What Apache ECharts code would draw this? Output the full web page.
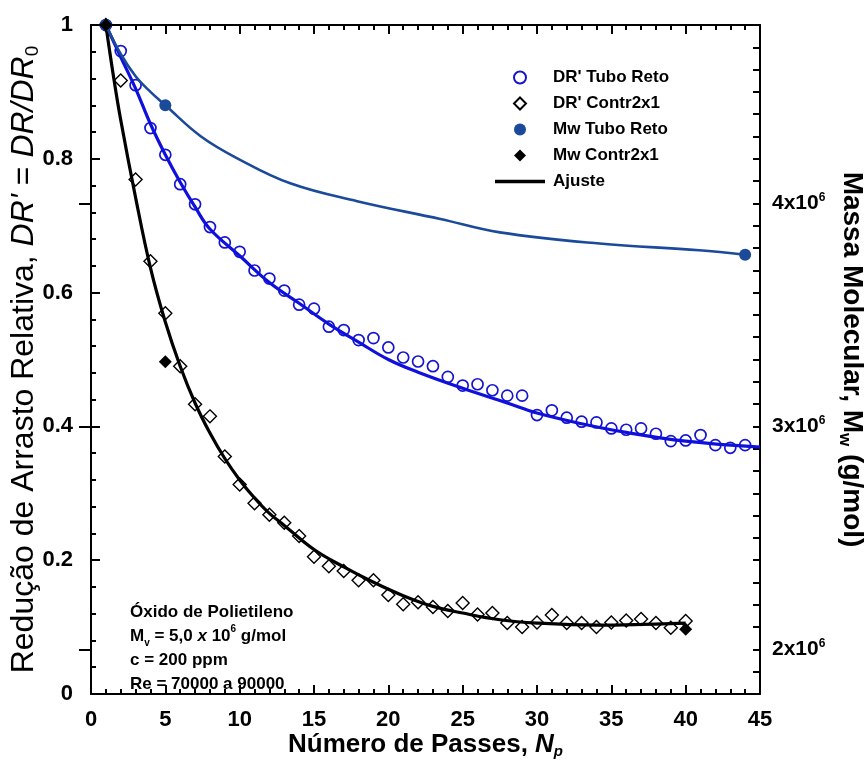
<!DOCTYPE html>
<html>
<head>
<meta charset="utf-8">
<script src="https://cdn.jsdelivr.net/npm/echarts@6/dist/echarts.min.js"></script>
<style>
html,body{margin:0;padding:0;background:#fff;}
#chart{width:868px;height:763px;}
</style>
</head>
<body>
<div id="chart"></div>
<script>
// ---- data ----
const nTubo = [1,2,3,4,5,6,7,8,9,10,11,12,13,14,15,16,17,18,19,20,21,22,23,24,25,26,27,28,29,30,31,32,33,34,35,36,37,38,39,40,41,42,43,44];
const drTubo = [1.0,0.961,0.910,0.846,0.806,0.762,0.732,0.698,0.675,0.661,0.633,0.621,0.603,0.582,0.576,0.549,0.544,0.529,0.532,0.518,0.503,0.497,0.490,0.474,0.461,0.463,0.454,0.446,0.446,0.417,0.424,0.413,0.407,0.406,0.397,0.395,0.397,0.389,0.378,0.379,0.387,0.372,0.368,0.372];

const nContr = [1,2,3,4,5,6,7,8,9,10,11,12,13,14,15,16,17,18,19,20,21,22,23,24,25,26,27,28,29,30,31,32,33,34,35,36,37,38,39,40];
const drContr = [1.0,0.917,0.769,0.647,0.569,0.490,0.433,0.415,0.355,0.313,0.285,0.268,0.256,0.236,0.205,0.191,0.184,0.170,0.170,0.148,0.134,0.137,0.130,0.124,0.136,0.119,0.121,0.106,0.100,0.107,0.118,0.106,0.106,0.100,0.107,0.110,0.112,0.106,0.099,0.109];

const nMwTubo = [1,5,44];
const mwTubo = [4.8e6,4.44e6,3.77e6];
const nMwContr = [1,5,40];
const mwContr = [4.8e6,3.29e6,2.09e6];

// fitted curves
const nFitTubo = [1,2,3,4,5,6,7,8,10,12,14,16,18,20,22,25,28,30,33,36,40,45];
const fitTubo = [1.0,0.952,0.905,0.852,0.806,0.765,0.728,0.695,0.655,0.615,0.584,0.553,0.526,0.500,0.481,0.457,0.435,0.420,0.404,0.391,0.378,0.369];

const nFitContr = [1,1.5,2,3,4,5,6,7,8,9,10,11,12,13,15,17,19,21,23,25,27.5,30,34,37,40];
const fitContr = [1.0,0.925,0.858,0.742,0.637,0.556,0.490,0.435,0.390,0.352,0.320,0.293,0.270,0.252,0.216,0.190,0.167,0.147,0.131,0.121,0.111,0.106,0.103,0.104,0.106];

const nFitMw = [1,2,3,4,5,7.4,9.9,13.4,17.9,23.5,27.5,34.2,40.9,44];
const fitMw = [4.8e6,4.67e6,4.57e6,4.50e6,4.44e6,4.30e6,4.20e6,4.09e6,4.01e6,3.93e6,3.87e6,3.82e6,3.79e6,3.77e6];

const xTicks = {min:0, max:45, interval:5};
const yLeftTicks = {min:0, max:1, interval:0.2};
const yRightTicks = {min:1.8e6, max:4.8e6, interval:0.1e6};
const yRightMajor = [2e6, 3e6, 4e6];

const FONT = 'Liberation Sans';
const pairs = (xs, ys) => xs.map((x,i)=>[x, ys[i]]);

const chart = echarts.init(document.getElementById('chart'), null, {renderer:'canvas'});

const axisCommon = {
  axisLine:{show:true, onZero:false, lineStyle:{color:'#000', width:2}},
  splitLine:{show:false},
};
const DIAMOND = 'path://M6,0L12,6L6,12L0,6Z';
const LINEICON = 'path://M0,0H50V3.4H0Z';

chart.setOption({
  backgroundColor:'#fff',
  animation:false,
  grid:{left:91, right:108, top:25, bottom:69, containLabel:false, outerBoundsMode:'none'},
  legend:{
    orient:'vertical', left:490, top:64,
    itemWidth:50, itemHeight:12, itemGap:9,
    textStyle:{fontFamily:FONT, fontWeight:'bold', fontSize:17, color:'#000', padding:[0,0,0,3]},
    data:[
      {name:"DR' Tubo Reto", icon:'circle'},
      {name:"DR' Contr2x1", icon:DIAMOND},
      {name:"Mw Tubo Reto", icon:'circle'},
      {name:"Mw Contr2x1", icon:DIAMOND},
      {name:"Ajuste", icon:LINEICON}
    ]
  },
  xAxis:[{
    type:'value', position:'bottom', min:xTicks.min, max:xTicks.max, interval:xTicks.interval,
    ...axisCommon,
    axisTick:{show:true, inside:true, length:9, lineStyle:{color:'#000', width:2}},
    minorTick:{show:true, splitNumber:5, length:5, lineStyle:{color:'#000', width:2}},
    axisLabel:{fontFamily:FONT, fontWeight:'bold', fontSize:22, color:'#000', margin:15},
    name:'{n|Número de Passes, }{i|N}{s|p}', nameLocation:'middle', nameGap:36, nameMoveOverlap:false,
    nameTextStyle:{fontFamily:FONT, fontWeight:'bold', fontSize:26, color:'#000',
      rich:{n:{fontFamily:FONT, fontWeight:'bold', fontSize:26, color:'#000'},
            i:{fontFamily:FONT, fontWeight:'bold', fontStyle:'italic', fontSize:26, color:'#000'},
            s:{fontFamily:FONT, fontWeight:'bold', fontStyle:'italic', fontSize:15, color:'#000', verticalAlign:'bottom', padding:[14,0,0,0]}}}
  },{
    type:'value', position:'top', min:xTicks.min, max:xTicks.max, interval:xTicks.interval,
    ...axisCommon,
    axisTick:{show:true, inside:true, length:9, lineStyle:{color:'#000', width:2}},
    minorTick:{show:true, splitNumber:5, length:5, lineStyle:{color:'#000', width:2}},
    axisLabel:{show:false}
  }],
  yAxis:[{
    type:'value', position:'left', min:yLeftTicks.min, max:yLeftTicks.max, interval:yLeftTicks.interval,
    ...axisCommon,
    axisTick:{show:true, inside:true, length:9, lineStyle:{color:'#000', width:2}},
    minorTick:{show:true, splitNumber:5, length:5, lineStyle:{color:'#000', width:2}},
    axisLabel:{fontFamily:FONT, fontWeight:'bold', fontSize:22, color:'#000', margin:18,
      formatter:v=>String(Math.round(v*10)/10)},
    name:"{n|Redução de Arrasto Relativa, }{i|DR'}{n| = }{i|DR/DR}{s|0}",
    nameLocation:'middle', nameRotate:90, nameGap:49, nameMoveOverlap:false,
    nameTextStyle:{fontFamily:FONT, fontSize:32, color:'#000',
      rich:{n:{fontFamily:FONT, fontSize:32, color:'#000'},
            i:{fontFamily:FONT, fontStyle:'italic', fontSize:32, color:'#000'},
            s:{fontFamily:FONT, fontSize:19, color:'#000', verticalAlign:'bottom', padding:[17,0,0,0]}}}
  },{
    type:'value', position:'right', min:yRightTicks.min, max:yRightTicks.max, interval:yRightTicks.interval,
    ...axisCommon,
    axisTick:{show:true, inside:true, length:7, lineStyle:{color:'#000', width:2}},
    axisLabel:{fontFamily:FONT, fontWeight:'bold', fontSize:21, color:'#000', margin:12,
      formatter:v=>{
        const m = Math.round(v/1e5);
        if (m % 10 !== 0) return '';
        return '{b|' + (m/10) + 'x10}{s|6}';
      },
      rich:{b:{fontFamily:FONT, fontWeight:'bold', fontSize:21, color:'#000'},
            s:{fontFamily:FONT, fontWeight:'bold', fontSize:12, color:'#000', verticalAlign:'top', padding:[0,0,12,0]}}},
    name:'{n|Massa Molecular, M}{s|w}{n| (g/mol)}',
    nameLocation:'middle', nameRotate:-90, nameGap:76, nameMoveOverlap:false,
    nameTextStyle:{fontFamily:FONT, fontWeight:'bold', fontSize:28, color:'#000',
      rich:{n:{fontFamily:FONT, fontWeight:'bold', fontSize:28, color:'#000'},
            s:{fontFamily:FONT, fontWeight:'bold', fontSize:17, color:'#000', verticalAlign:'bottom', padding:[15,0,0,0]}}}
  },{
    // overlay: longer ticks at the labelled values of the right axis (same scale)
    type:'value', position:'right', min:yRightTicks.min, max:yRightTicks.max, interval:yRightTicks.interval,
    axisLine:{show:false}, splitLine:{show:false}, axisLabel:{show:false},
    axisTick:{show:true, inside:true, length:12, customValues:yRightMajor, lineStyle:{color:'#000', width:2}}
  }],
  graphic:[{
    type:'text', left:130, top:600,
    style:{
      text:'{a|Óxido de Polietileno}\n{a|M}{s|v}{a| = 5,0 }{i|x}{a| 10}{p|6}{a| g/mol}\n{a|c = 200 ppm}\n{a|Re = 70000 a 90000}',
      fontFamily:FONT, fontWeight:'bold', fontSize:17, fill:'#000', lineHeight:24,
      rich:{
        a:{fontFamily:FONT, fontWeight:'bold', fontSize:17, fill:'#000', lineHeight:24},
        i:{fontFamily:FONT, fontWeight:'bold', fontStyle:'italic', fontSize:17, fill:'#000', lineHeight:24},
        s:{fontFamily:FONT, fontWeight:'bold', fontSize:10, fill:'#000', lineHeight:24, verticalAlign:'bottom', padding:[10,0,0,0]},
        p:{fontFamily:FONT, fontWeight:'bold', fontSize:10, fill:'#000', lineHeight:24, verticalAlign:'top', padding:[0,0,10,0]}
      }
    }
  }],
  series:[
    {name:"DR' Tubo Reto", type:'scatter', xAxisIndex:0, yAxisIndex:0, data:pairs(nTubo, drTubo),
     symbol:'circle', symbolSize:11,
     itemStyle:{color:'rgba(255,255,255,0)', borderColor:'#1515d0', borderWidth:1.7, opacity:1}},
    {name:"DR' Contr2x1", type:'scatter', xAxisIndex:0, yAxisIndex:0, data:pairs(nContr, drContr),
     symbol:'diamond', symbolSize:13,
     itemStyle:{color:'rgba(255,255,255,0)', borderColor:'#000', borderWidth:1.4, opacity:1}},
    {name:'Ajuste Tubo', type:'line', xAxisIndex:0, yAxisIndex:0, data:pairs(nFitTubo, fitTubo),
     smooth:0.4, showSymbol:false, symbol:'none', lineStyle:{color:'#1010dd', width:3.2}, z:3},
    {name:'Ajuste', type:'line', xAxisIndex:0, yAxisIndex:0, data:pairs(nFitContr, fitContr),
     smooth:0.4, showSymbol:false, symbol:'none', itemStyle:{color:'#000'}, lineStyle:{color:'#000', width:3.2}, z:3},
    {name:'Ajuste Mw', type:'line', xAxisIndex:0, yAxisIndex:1, data:pairs(nFitMw, fitMw),
     smooth:0.4, showSymbol:false, symbol:'none', lineStyle:{color:'#1b4a9a', width:2.6}, z:3},
    {name:'Mw Tubo Reto', type:'scatter', xAxisIndex:0, yAxisIndex:1, data:pairs(nMwTubo, mwTubo),
     symbol:'circle', symbolSize:12, itemStyle:{color:'#1b4a9a', opacity:1}, z:4},
    {name:'Mw Contr2x1', type:'scatter', xAxisIndex:0, yAxisIndex:1, data:pairs(nMwContr, mwContr),
     symbol:'diamond', symbolSize:13, itemStyle:{color:'#000', opacity:1}, z:4}
  ]
});
</script>
</body>
</html>
